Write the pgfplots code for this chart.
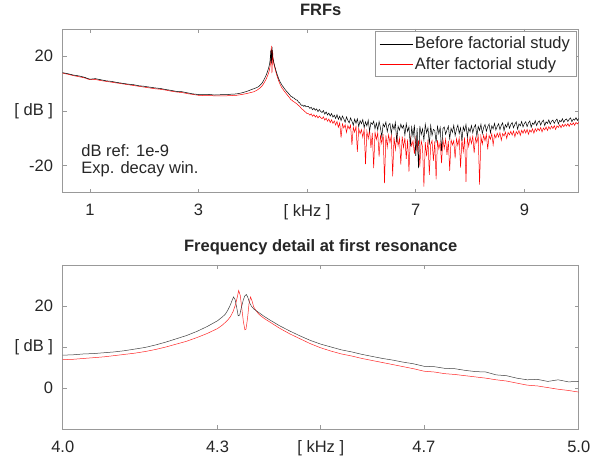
\documentclass[border=0pt]{standalone}
\usepackage{fontspec}
\setmainfont{Liberation Sans}
\usepackage{pgfplots}
\pgfplotsset{compat=1.18}
\usepackage{pgfplotstable}

% Before factorial study (black)
\pgfplotstableread{
x y
0.5 14.0
0.6 13.6
0.7 13.1
0.8 12.8
0.9 12.3
1.0 11.6
1.1 11.8
1.2 11.4
1.3 11.0
1.4 10.8
1.5 10.4
1.6 10.1
1.7 9.8
1.8 9.6
1.9 9.2
2.0 9.0
2.1 8.7
2.2 8.4
2.3 8.2
2.4 7.8
2.5 7.5
2.6 7.1
2.7 7.0
2.8 6.6
2.9 6.2
3.0 6.0
3.1 5.9
3.2 6.0
3.3 5.8
3.4 5.9
3.5 5.9
3.6 6.1
3.7 6.2
3.8 6.6
3.9 7.2
4.00 8.0
4.02 8.1
4.04 8.3
4.06 8.4
4.08 8.6
4.10 8.8
4.12 9.1
4.14 9.5
4.16 9.9
4.18 10.5
4.20 11.2
4.22 12.0
4.24 12.8
4.26 13.8
4.28 15.0
4.29 15.7
4.30 16.4
4.31 17.4
4.315 18.0
4.32 19.0
4.325 20.3
4.328 21.3
4.331 22.2
4.334 21.6
4.337 19.8
4.340 17.6
4.343 17.8
4.346 19.5
4.350 21.5
4.353 22.5
4.356 22.8
4.359 22.0
4.362 20.8
4.366 19.9
4.37 19.3
4.38 18.4
4.39 17.5
4.40 16.7
4.42 15.2
4.44 13.9
4.46 12.7
4.48 11.6
4.50 10.7
4.52 10.0
4.54 9.3
4.56 8.8
4.58 8.2
4.60 7.7
4.62 7.2
4.64 6.8
4.66 6.3
4.68 5.9
4.70 5.3
4.72 5.2
4.74 4.8
4.76 4.7
4.78 4.3
4.80 4.0
4.82 3.9
4.84 3.2
4.86 3.0
4.88 2.4
4.90 2.0
4.92 2.1
4.94 1.6
4.96 2.0
4.98 1.5
5.00 1.6
5.025 1.6
5.05 0.9
5.075 1.3
5.1 0.4
5.125 1.0
5.15 0.2
5.175 0.7
5.2 -0.3
5.225 0.5
5.25 -0.2
5.275 -0.6
5.3 0.1
5.325 -1.2
5.35 -0.4
5.375 -1.5
5.4 -0.8
5.425 -1.9
5.45 -1.0
5.475 -2.3
5.5 -1.6
5.525 -2.8
5.55 -1.4
5.575 -3.1
5.6 -2.0
5.625 -3.6
5.65 -1.9
5.675 -2.9
5.7 -4.2
5.725 -2.2
5.75 -3.5
5.775 -4.4
5.8 -2.6
5.825 -3.8
5.85 -5.3
5.875 -3.0
5.9 -4.6
5.925 -2.9
5.95 -5.8
5.975 -3.6
6.0 -4.7
6.025 -3.2
6.05 -6.1
6.075 -4.0
6.1 -5.5
6.125 -3.4
6.15 -7.4
6.175 -4.3
6.2 -5.0
6.225 -3.8
6.25 -6.6
6.275 -4.5
6.3 -7.0
6.325 -3.9
6.35 -6.2
6.375 -9.5
6.4 -4.8
6.425 -5.9
6.45 -4.1
6.475 -7.6
6.5 -5.2
6.525 -4.6
6.55 -8.3
6.575 -5.0
6.6 -6.8
6.625 -4.3
6.65 -11.5
6.675 -5.6
6.7 -7.1
6.725 -4.9
6.75 -6.4
6.775 -5.3
6.8 -8.9
6.825 -4.7
6.85 -7.6
6.875 -5.8
6.9 -13.0
6.925 -6.0
6.95 -9.4
6.975 -5.1
7.0 -16.5
7.025 -6.3
7.05 -21.0
7.075 -5.5
7.1 -8.7
7.125 -6.6
7.15 -10.8
7.175 -4.9
7.2 -8.1
7.225 -6.2
7.25 -12.4
7.275 -5.4
7.3 -9.0
7.325 -6.8
7.35 -7.2
7.375 -11.6
7.4 -5.7
7.425 -8.4
7.45 -6.1
7.475 -14.8
7.5 -6.5
7.525 -5.9
7.55 -8.6
7.575 -7.0
7.6 -5.6
7.625 -10.2
7.65 -6.4
7.675 -7.9
7.7 -5.3
7.725 -9.1
7.75 -6.7
7.775 -5.2
7.8 -8.3
7.825 -6.2
7.85 -11.0
7.875 -5.8
7.9 -7.4
7.925 -5.0
7.95 -9.6
7.975 -6.3
8.0 -7.7
8.025 -5.4
8.05 -8.0
8.075 -6.0
8.1 -5.1
8.125 -9.3
8.15 -5.7
8.175 -7.2
8.2 -4.9
8.225 -8.4
8.25 -6.1
8.275 -5.0
8.3 -7.5
8.325 -5.8
8.35 -4.8
8.375 -8.1
8.4 -5.5
8.425 -6.6
8.45 -4.6
8.475 -7.0
8.5 -5.7
8.525 -4.7
8.55 -6.9
8.575 -5.3
8.6 -4.4
8.625 -7.3
8.65 -5.1
8.675 -6.0
8.7 -4.2
8.725 -6.4
8.75 -5.0
8.775 -4.3
8.8 -6.2
8.825 -4.9
8.85 -4.0
8.875 -6.7
8.9 -4.8
8.925 -5.5
8.95 -3.9
8.975 -5.9
9.0 -4.6
9.025 -4.0
9.05 -5.8
9.075 -4.4
9.1 -3.7
9.125 -6.0
9.15 -4.5
9.175 -5.0
9.2 -3.6
9.225 -5.4
9.25 -4.2
9.275 -3.7
9.3 -5.2
9.325 -4.0
9.35 -3.4
9.375 -5.4
9.4 -4.0
9.425 -4.6
9.45 -3.3
9.475 -4.9
9.5 -3.8
9.525 -3.4
9.55 -4.6
9.575 -3.6
9.6 -3.0
9.625 -4.8
9.65 -3.5
9.675 -4.0
9.7 -2.9
9.725 -4.2
9.75 -3.3
9.775 -3.0
9.8 -3.9
9.825 -3.1
9.85 -2.6
9.875 -4.0
9.9 -3.0
9.925 -3.4
9.95 -2.5
9.975 -3.5
10.0 -2.8
}\before

% After factorial study (red)
\pgfplotstableread{
x y
0.5 13.8
0.6 13.4
0.7 12.9
0.8 12.5
0.9 12.1
1.0 11.4
1.1 11.5
1.2 11.1
1.3 10.8
1.4 10.5
1.5 10.2
1.6 9.9
1.7 9.6
1.8 9.3
1.9 9.0
2.0 8.7
2.1 8.4
2.2 8.1
2.3 7.9
2.4 7.6
2.5 7.2
2.6 6.9
2.7 6.7
2.8 6.3
2.9 6.0
3.0 5.7
3.1 5.6
3.2 5.6
3.3 5.5
3.4 5.5
3.5 5.5
3.6 5.6
3.7 5.7
3.8 6.0
3.9 6.4
4.00 6.9
4.02 7.0
4.04 7.2
4.06 7.4
4.08 7.6
4.10 7.9
4.12 8.2
4.14 8.5
4.16 8.9
4.18 9.4
4.20 10.0
4.22 10.7
4.24 11.4
4.26 12.3
4.28 13.3
4.29 13.9
4.30 14.5
4.31 15.4
4.32 16.6
4.325 17.4
4.33 18.6
4.335 20.4
4.338 22.0
4.341 23.8
4.344 22.6
4.347 19.5
4.350 16.3
4.353 14.2
4.355 14.3
4.358 16.8
4.361 20.5
4.364 22.2
4.367 21.2
4.37 19.8
4.375 18.8
4.38 18.0
4.39 17.0
4.40 16.2
4.42 14.6
4.44 13.2
4.46 12.0
4.48 10.8
4.50 9.8
4.52 9.0
4.54 8.3
4.56 7.8
4.58 7.2
4.60 6.7
4.62 6.2
4.64 5.7
4.66 5.2
4.68 4.7
4.70 4.1
4.72 3.9
4.74 3.5
4.76 3.3
4.78 3.0
4.80 2.7
4.82 2.4
4.84 2.0
4.86 1.7
4.88 1.2
4.90 0.7
4.92 0.5
4.94 0.1
4.96 -0.3
4.98 -0.6
5.00 -1.0
5.025 -1.0
5.05 -1.6
5.075 -1.1
5.1 -2.0
5.125 -1.4
5.15 -2.3
5.175 -1.7
5.2 -2.6
5.225 -1.9
5.25 -2.5
5.275 -2.9
5.3 -2.2
5.325 -3.4
5.35 -2.7
5.375 -3.8
5.4 -3.0
5.425 -4.3
5.45 -3.3
5.475 -4.6
5.5 -3.7
5.525 -5.2
5.55 -3.9
5.575 -6.0
5.6 -4.4
5.625 -9.8
5.65 -4.8
5.675 -6.3
5.7 -5.1
5.725 -7.9
5.75 -5.4
5.775 -6.6
5.8 -5.3
5.825 -12.5
5.85 -6.0
5.875 -7.8
5.9 -5.7
5.925 -15.0
5.95 -6.5
5.975 -8.4
6.0 -6.9
6.025 -9.7
6.05 -6.8
6.075 -19.5
6.1 -7.5
6.125 -10.2
6.15 -7.0
6.175 -13.6
6.2 -8.1
6.225 -21.0
6.25 -7.8
6.275 -10.5
6.3 -8.0
6.325 -16.8
6.35 -9.2
6.375 -12.0
6.4 -8.5
6.425 -26.5
6.45 -9.0
6.475 -13.3
6.5 -8.8
6.525 -11.6
6.55 -9.1
6.575 -24.0
6.6 -9.6
6.625 -14.2
6.65 -8.9
6.675 -12.8
6.7 -10.0
6.725 -19.7
6.75 -9.4
6.775 -13.5
6.8 -9.8
6.825 -17.6
6.85 -10.5
6.875 -22.3
6.9 -9.9
6.925 -12.9
6.95 -11.0
6.975 -15.8
7.0 -10.2
7.025 -14.6
7.05 -10.8
7.075 -20.4
7.1 -11.0
7.125 -13.2
7.15 -27.8
7.175 -11.5
7.2 -16.7
7.225 -10.6
7.25 -23.5
7.275 -12.4
7.3 -10.9
7.325 -18.3
7.35 -11.2
7.375 -25.1
7.4 -10.8
7.425 -14.0
7.45 -11.6
7.475 -19.2
7.5 -10.5
7.525 -13.8
7.55 -10.4
7.575 -16.1
7.6 -11.0
7.625 -22.0
7.65 -10.6
7.675 -12.5
7.7 -10.9
7.725 -17.4
7.75 -10.2
7.775 -12.7
7.8 -9.9
7.825 -20.8
7.85 -10.4
7.875 -14.9
7.9 -9.7
7.925 -26.0
7.95 -10.1
7.975 -13.0
8.0 -9.6
8.025 -12.0
8.05 -9.3
8.075 -15.5
8.1 -9.8
8.125 -11.7
8.15 -9.1
8.175 -27.0
8.2 -9.4
8.225 -12.2
8.25 -8.9
8.275 -11.0
8.3 -8.6
8.325 -14.1
8.35 -9.0
8.375 -10.4
8.4 -8.4
8.425 -12.5
8.45 -8.7
8.475 -9.9
8.5 -8.2
8.525 -9.6
8.55 -8.0
8.575 -10.8
8.6 -8.3
8.625 -9.2
8.65 -7.8
8.675 -10.1
8.7 -7.9
8.725 -8.8
8.75 -7.5
8.775 -8.9
8.8 -7.4
8.825 -9.5
8.85 -7.6
8.875 -8.5
8.9 -7.2
8.925 -9.0
8.95 -7.1
8.975 -8.2
9.0 -6.9
9.025 -8.1
9.05 -6.8
9.075 -8.6
9.1 -7.0
9.125 -7.8
9.15 -6.6
9.175 -8.2
9.2 -6.5
9.225 -7.5
9.25 -6.4
9.275 -7.3
9.3 -6.1
9.325 -7.7
9.35 -6.3
9.375 -7.0
9.4 -5.9
9.425 -7.2
9.45 -5.8
9.475 -6.7
9.5 -5.6
9.525 -6.5
9.55 -5.4
9.575 -6.8
9.6 -5.5
9.625 -6.1
9.65 -5.1
9.675 -6.2
9.7 -5.0
9.725 -5.8
9.75 -4.9
9.775 -5.6
9.8 -4.7
9.825 -5.7
9.85 -4.6
9.875 -5.2
9.9 -4.4
9.925 -5.3
9.95 -4.3
9.975 -4.8
10.0 -4.2
}\after

\definecolor{framegray}{gray}{0.6}
\definecolor{labelgray}{gray}{0.15}

\pgfplotsset{
  frfstyle/.style={
    scale only axis,
    width=516pt,
    axis line style={framegray, line width=0.6pt},
    tick style={framegray, line width=0.6pt},
    major tick length=4pt,
    tick align=inside,
    ticklabel style={text=labelgray},
    xticklabel shift=6pt,
    yticklabel shift=4pt,
    title style={font=\bfseries, text=labelgray, at={(0.5,1)}, anchor=base, yshift=7.5pt},
    clip=true,
  }
}

\begin{document}
\fontsize{16.5pt}{19pt}\selectfont
\begin{tikzpicture}
\useasboundingbox (0pt,0pt) rectangle (594pt,457pt);

\begin{axis}[
  frfstyle,
  at={(62.7pt,264.3pt)}, anchor=south west,
  height=163.7pt,
  xmin=0.5, xmax=10, ymin=-30, ymax=30,
  xtick={1,3,5,7,9}, xticklabels={1,3,{[ kHz ]},7,9},
  ytick={-20,0,20}, yticklabels={-20,{[ dB ]},20},
  title={FRFs},
  legend style={at={(0.995,0.985)}, anchor=north east, draw=framegray, fill=white,
    text=labelgray, inner xsep=4pt, inner ysep=3pt, row sep=2pt},
  legend cell align=left,
  legend image code/.code={\draw[#1] (0pt,0pt) -- (33pt,0pt);},
]
\addplot[red, line width=0.5pt, forget plot] table[x=x,y=y] {\after};
\addplot[black, line width=0.5pt] table[x=x,y=y] {\before};
\addlegendentry{Before factorial study}
\addlegendimage{red, line width=0.5pt}
\addlegendentry{After factorial study}
\node[anchor=base west, text=labelgray] at (axis cs:0.74,-16.6) {dB ref: 1e-9};
\node[anchor=base west, text=labelgray] at (axis cs:0.74,-23.1) {Exp. decay win.};
\end{axis}

\begin{axis}[
  frfstyle,
  at={(62.7pt,28pt)}, anchor=south west,
  height=164pt,
  xmin=4.0, xmax=5.0, ymin=-10, ymax=30,
  xtick={4.0,4.3,4.5,4.7,5.0}, xticklabels={4.0,4.3,{[ kHz ]},4.7,5.0},
  ytick={0,10,20}, yticklabels={0,{[ dB ]},20},
  title={Frequency detail at first resonance},
]
\addplot[red!85, line width=0.5pt] table[x=x,y=y] {\after};
\addplot[black!75, line width=0.5pt] table[x=x,y=y] {\before};
\end{axis}
\end{tikzpicture}
\end{document}
